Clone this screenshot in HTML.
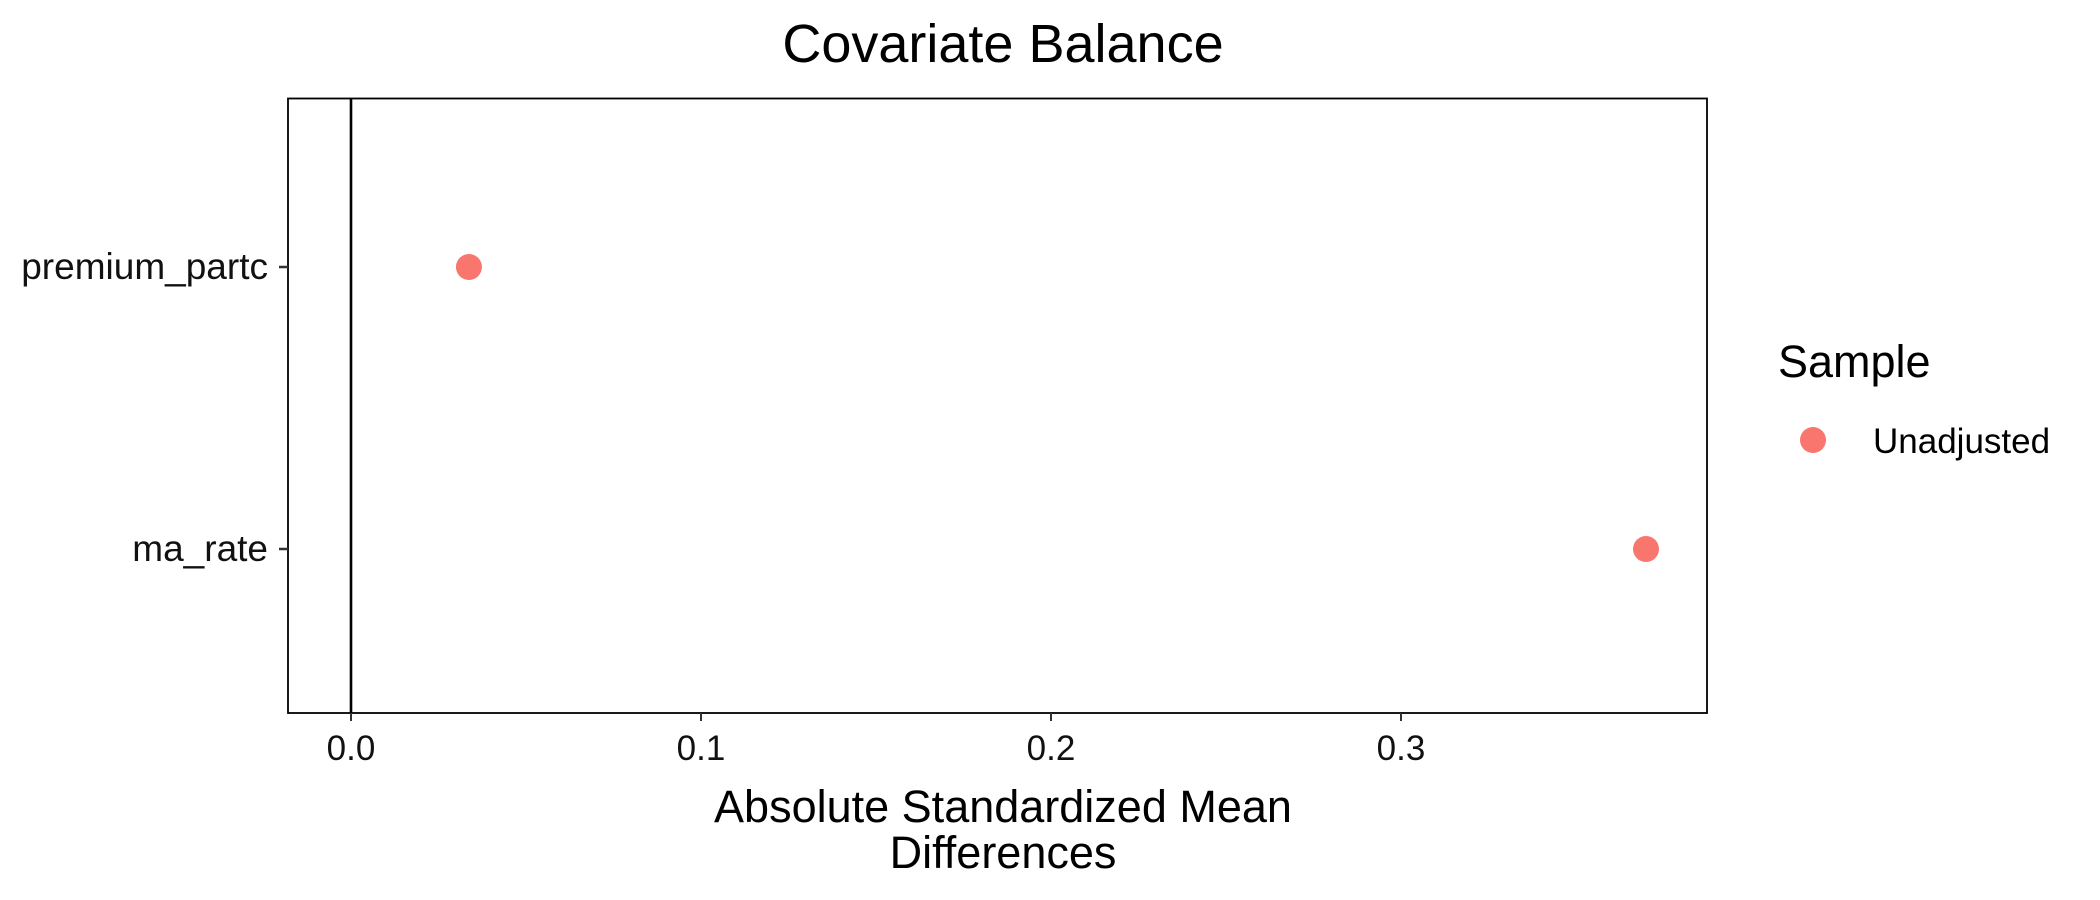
<!DOCTYPE html>
<html><head><meta charset="utf-8"><style>body{margin:0;background:#fff}svg{display:block;font-family:"Liberation Sans",sans-serif}</style></head>
<body>
<svg id="chart" width="2100" height="900" viewBox="0 0 2100 900">
<text x="1003" y="62" font-size="54" text-anchor="middle">Covariate Balance</text>
<rect x="288" y="98.5" width="1419" height="614.5" fill="none" stroke="#000" stroke-width="1.8"/>
<g id="marks"></g>
<text x="1003" y="822" font-size="45" text-anchor="middle">Absolute Standardized Mean</text>
<text x="1003" y="868" font-size="45" text-anchor="middle">Differences</text>
<text x="1778" y="377" font-size="45">Sample</text>
<circle cx="1813" cy="440" r="13" fill="#F8766D"/>
<text x="1873" y="453" font-size="35">Unadjusted</text>
</svg>
<script>
const categories = ["premium_partc", "ma_rate"];
const unadjusted = [0.0337, 0.370];
const xTicks = [0, 0.1, 0.2, 0.3];
const xTickLabels = ["0.0", "0.1", "0.2", "0.3"];
const NS = "http://www.w3.org/2000/svg";
const g = document.getElementById('marks');
const x = v => 351 + v * 3500;
const yPos = [267, 549];
const y = i => yPos[i];
function mk(t, a){const e=document.createElementNS(NS,t);for(const k in a)e.setAttribute(k,a[k]);g.appendChild(e);return e;}
const ref = mk('line',{x1:x(0),x2:x(0),y1:98.5,y2:713,stroke:'#000','stroke-width':2.6});


xTicks.forEach((v,i)=>{
  const t = mk('line',{x1:x(v),x2:x(v),y1:713,y2:721,stroke:'#333','stroke-width':2});
  
  
  const l = mk('text',{x:x(v),y:760,'font-size':35,'text-anchor':'middle',fill:'#111'});
  l.textContent = xTickLabels[i];
  
  
});
categories.forEach((c,i)=>{
  const t = mk('line',{x1:279,x2:288,y1:y(i),y2:y(i),stroke:'#333','stroke-width':2.5});
  
  
  const l = mk('text',{x:268,y:y(i)+12,'font-size':37,'text-anchor':'end',fill:'#111'});
  l.textContent = c;
  
  
  const p = mk('circle',{cx:x(unadjusted[i]),cy:y(i),r:13,fill:'#F8766D'});
  
  
});
</script>
</body></html>
